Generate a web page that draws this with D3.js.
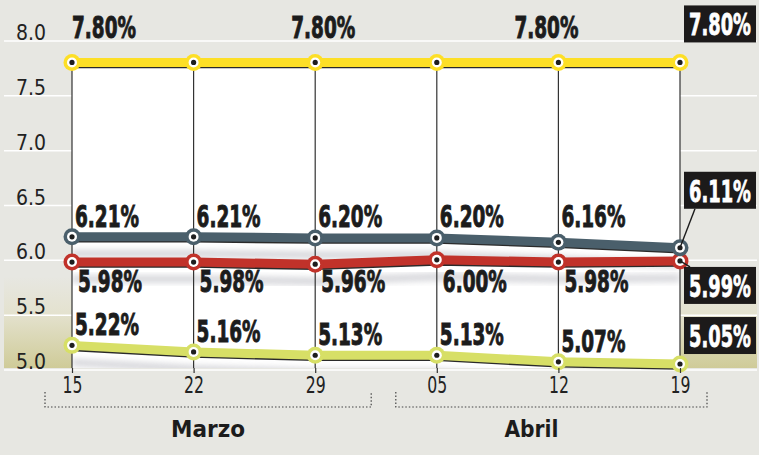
<!DOCTYPE html>
<html>
<head>
<meta charset="utf-8">
<script src="https://cdn.jsdelivr.net/npm/d3@7"></script>
<style>
  body { margin: 0; background: #e7e7e2; }
  svg { display: block; }
</style>
</head>
<body>
<svg id="chart"></svg>
<script>
// dates along the x axis and the month groups
const dates = ["15", "22", "29", "05", "12", "19"];
const months = ["Marzo", "Abril"];
const monthRanges = [["15", "29"], ["05", "19"]];
const yTicks = [5.0, 5.5, 6.0, 6.5, 7.0, 7.5, 8.0];

// series values (%)
const yellowValues = [7.80, 7.80, 7.80, 7.80, 7.80, 7.80];
const grayValues = [6.21, 6.21, 6.20, 6.20, 6.16, 6.11];
const redValues = [5.98, 5.98, 5.96, 6.00, 5.98, 5.99];
const greenValues = [5.22, 5.16, 5.13, 5.13, 5.07, 5.05];

const width = 759, height = 455;
const plotLeft = 72, plotRight = 680, plotBottom = 368;
const bg = "#e7e7e2";
const labelFont = "'DejaVu Sans', sans-serif";

const svg = d3.select("#chart").attr("width", width).attr("height", height);

const x = d3.scalePoint().domain(dates).range([plotLeft, plotRight]);
const y = d3.scaleLinear().domain([5, 8]).range([369.5, 40.5]);
const plotTop = y(7.8);

const fmt = d3.format(".2f");

// squeeze a text horizontally to a given width (condensed look)
function squeeze(text, tx, ty, w, anchor) {
  const n = text.node();
  const s = Math.min(1, w / n.getComputedTextLength());
  text.attr("x", 0).attr("y", 0).attr("text-anchor", anchor)
      .attr("transform", `translate(${tx},${ty}) scale(${s},1)`);
  return text;
}

// defs: gradient for the olive bottom band, blur for line shadows, clip for plot
const defs = svg.append("defs");
const grad = defs.append("linearGradient").attr("id", "olive")
    .attr("x1", 0).attr("y1", 0).attr("x2", 0).attr("y2", 1);
grad.append("stop").attr("offset", "0%").attr("stop-color", bg);
grad.append("stop").attr("offset", "40%").attr("stop-color", "#e4e2cf");
grad.append("stop").attr("offset", "100%").attr("stop-color", "#cfcb98");

defs.append("filter").attr("id", "blur")
    .attr("x", "-5%").attr("y", "-100%").attr("width", "110%").attr("height", "300%")
    .append("feGaussianBlur").attr("stdDeviation", 3);

defs.append("clipPath").attr("id", "plotClip")
    .append("rect")
    .attr("x", plotLeft).attr("y", plotTop)
    .attr("width", plotRight - plotLeft).attr("height", plotBottom - plotTop);

// background
svg.append("rect").attr("width", width).attr("height", height).attr("fill", bg);

// olive band in the side columns
const oliveTop = y(5.85);
svg.append("rect").attr("x", 4).attr("y", oliveTop).attr("width", plotLeft - 4)
    .attr("height", plotBottom - oliveTop).attr("fill", "url(#olive)");
svg.append("rect").attr("x", plotRight).attr("y", oliveTop).attr("width", width - plotRight - 2)
    .attr("height", plotBottom - oliveTop).attr("fill", "url(#olive)");

// gridlines + y labels
svg.append("g")
    .attr("transform", "translate(4,0)")
    .call(d3.axisRight(y).tickValues(yTicks).tickSize(width - 6).tickFormat(d3.format(".1f")))
    .call(g => g.select(".domain").remove())
    .call(g => g.selectAll("line").attr("stroke", "#fff").attr("stroke-width", 1.5))
    .call(g => g.selectAll("text")
        .attr("x", 27).attr("dy", "-1")
        .attr("text-anchor", "middle")
        .attr("fill", "#222")
        .attr("font-family", labelFont)
        .attr("font-size", 21)
        .attr("textLength", 30)
        .attr("lengthAdjust", "spacingAndGlyphs"));

// white plot area
svg.append("rect")
    .attr("x", plotLeft).attr("y", plotTop)
    .attr("width", plotRight - plotLeft).attr("height", plotBottom - plotTop)
    .attr("fill", "#fff");

const series = [
  { name: "green", values: greenValues, color: "#d7df66" },
  { name: "red", values: redValues, color: "#c1322a" },
  { name: "gray", values: grayValues, color: "#4a5f6b" },
  { name: "yellow", values: yellowValues, color: "#fddf26" }
];

const line = d3.line()
    .x((d, i) => x(dates[i]))
    .y(d => y(d));

// soft shadows under each line
const shadows = svg.append("g").attr("clip-path", "url(#plotClip)");
series.forEach(s => {
  shadows.append("path")
      .datum(s.values)
      .attr("d", line)
      .attr("fill", "none")
      .attr("stroke", "#c4c5cb")
      .attr("stroke-width", 7)
      .attr("opacity", 0.75)
      .attr("filter", "url(#blur)")
      .attr("transform", "translate(0,17)");
});

// vertical date lines
svg.append("g").selectAll("line")
  .data(dates)
  .join("line")
    .attr("x1", d => x(d)).attr("x2", d => x(d))
    .attr("y1", plotTop).attr("y2", plotBottom)
    .attr("stroke", "#333")
    .attr("stroke-width", 1.2);

// lines with markers
series.forEach(s => {
  const g = svg.append("g").attr("class", "series-" + s.name);
  g.append("path")
      .datum(s.values)
      .attr("d", line)
      .attr("fill", "none")
      .attr("stroke", "#2a2a2a")
      .attr("stroke-width", 9)
      .attr("transform", "translate(0,1.3)");
  g.append("path")
      .datum(s.values)
      .attr("d", line)
      .attr("fill", "none")
      .attr("stroke", s.color)
      .attr("stroke-width", 9);
  const m = g.selectAll("g.marker")
    .data(s.values)
    .join("g")
      .attr("class", "marker")
      .attr("transform", (d, i) => `translate(${x(dates[i])},${y(d)})`);
  m.append("circle").attr("r", 8.5).attr("fill", s.color);
  m.append("circle").attr("r", 5).attr("fill", "#fff");
  m.append("circle").attr("r", 2.6).attr("fill", "#1e1e1e");
});

// value labels (all but the last date, which gets a black box)
function valueLabel(g, tx, ty, text, anchor) {
  const t = g.append("text")
      .attr("font-family", labelFont)
      .attr("font-weight", "bold")
      .attr("font-size", 30)
      .attr("fill", "#1c1c1c")
      .attr("stroke", "#1c1c1c")
      .attr("stroke-width", 1)
      .text(text);
  squeeze(t, tx, ty, 64, anchor);
}

const labels = svg.append("g");
const yellowLabelDx = { "15": 32, "29": 8, "12": -12 };
yellowValues.forEach((v, i) => {
  if (yellowLabelDx[dates[i]] === undefined) return;
  valueLabel(labels, x(dates[i]) + yellowLabelDx[dates[i]], y(v) - 24, fmt(v) + "%", "middle");
});
const grayRow = y(d3.max(grayValues)) - 10;
grayValues.slice(0, -1).forEach((v, i) => {
  valueLabel(labels, x(dates[i]) + 3, grayRow, fmt(v) + "%", "start");
});
const redRow = y(d3.min(redValues)) + 28;
redValues.slice(0, -1).forEach((v, i) => {
  valueLabel(labels, x(dates[i]) + 6, redRow, fmt(v) + "%", "start");
});
greenValues.slice(0, -1).forEach((v, i) => {
  valueLabel(labels, x(dates[i]) + 3, y(v) - 10, fmt(v) + "%", "start");
});

// end-of-line boxes
const last = dates.length - 1;
const endBoxes = [
  { values: yellowValues, top: y(yellowValues[last]) - 57, connector: null },
  { values: grayValues, top: y(grayValues[last]) - 76, connector: "bottom" },
  { values: redValues, top: y(redValues[last]) + 6, connector: "top" },
  { values: greenValues, top: y(greenValues[last]) - 47, connector: null }
];
const boxX = 684, boxW = 72, boxH = 37;
const boxes = svg.append("g");
endBoxes.forEach(b => {
  const px = x(dates[last]), py = y(b.values[last]);
  if (b.connector === "bottom") {
    boxes.append("line").attr("x1", px).attr("y1", py)
        .attr("x2", boxX + 11).attr("y2", b.top + boxH)
        .attr("stroke", "#1c1c1c").attr("stroke-width", 1.4);
  } else if (b.connector === "top") {
    boxes.append("line").attr("x1", px).attr("y1", py)
        .attr("x2", boxX + 6).attr("y2", b.top)
        .attr("stroke", "#1c1c1c").attr("stroke-width", 1.4);
  }
  boxes.append("rect")
      .attr("x", boxX).attr("y", b.top)
      .attr("width", boxW).attr("height", boxH)
      .attr("fill", "#1c1a1a");
  const t = boxes.append("text")
      .attr("font-family", labelFont)
      .attr("font-weight", "bold")
      .attr("font-size", 30)
      .attr("fill", "#fff")
      .attr("stroke", "#fff")
      .attr("stroke-width", 0.8)
      .text(fmt(b.values[last]) + "%");
  squeeze(t, boxX + boxW / 2, b.top + 30, 62, "middle");
});

// x axis
svg.append("g")
    .attr("transform", `translate(0,${plotBottom})`)
    .call(d3.axisBottom(x).tickSize(5).tickPadding(4))
    .call(g => g.select(".domain").remove())
    .call(g => g.selectAll("line").attr("stroke", "#333").attr("stroke-width", 1.2))
    .call(g => g.selectAll("text")
        .attr("fill", "#222")
        .attr("font-family", labelFont)
        .attr("font-size", 23)
        .attr("textLength", 20)
        .attr("lengthAdjust", "spacingAndGlyphs"));

// month brackets
const brackets = svg.append("g");
months.forEach((name, i) => {
  const [from, to] = monthRanges[i];
  const left = x(from) - (i === 0 ? 27 : 41);
  const right = x(to) + (i === 0 ? 56 : 27);
  brackets.append("path")
      .attr("d", `M${left},392 V407 H${right} V392`)
      .attr("fill", "none")
      .attr("stroke", "#444")
      .attr("stroke-width", 1.2)
      .attr("stroke-dasharray", "1.5,2");
  brackets.append("text")
      .attr("x", (left + right) / 2 - (i === 0 ? 0 : 20))
      .attr("y", 437)
      .attr("text-anchor", "middle")
      .attr("font-family", labelFont)
      .attr("font-weight", "bold")
      .attr("font-size", 23)
      .attr("fill", "#1c1c1c")
      .attr("textLength", i === 0 ? 74 : 54)
      .attr("lengthAdjust", "spacingAndGlyphs")
      .text(name);
});
</script>
</body>
</html>
